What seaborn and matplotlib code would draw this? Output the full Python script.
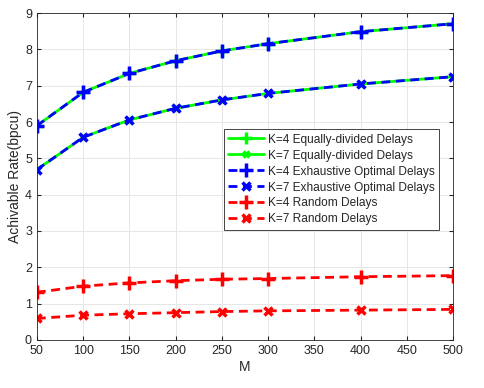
import numpy as np
import pandas as pd
import matplotlib
matplotlib.use("Agg")
import matplotlib.pyplot as plt
import seaborn as sns

# values
M = [50, 100, 150, 200, 250, 300, 400, 500]
k4_equal = [5.90, 6.82, 7.34, 7.69, 7.96, 8.16, 8.49, 8.71]
k7_equal = [4.69, 5.58, 6.06, 6.38, 6.61, 6.79, 7.05, 7.25]
k4_opt = [5.90, 6.82, 7.34, 7.69, 7.96, 8.16, 8.49, 8.71]
k7_opt = [4.69, 5.58, 6.06, 6.38, 6.61, 6.79, 7.05, 7.25]
k4_rand = [1.31, 1.48, 1.57, 1.63, 1.67, 1.69, 1.74, 1.77]
k7_rand = [0.59, 0.68, 0.72, 0.75, 0.78, 0.80, 0.82, 0.84]

sns.set_style("ticks")
plt.rcParams["font.family"] = ["Liberation Sans", "DejaVu Sans"]

fig = plt.figure(figsize=(4.85, 3.88), dpi=100)
ax = fig.add_axes([0.076, 0.124, 0.858, 0.842])

dash = (0, (3.2, 2.0))
series = [
    (k4_equal, "K=4 Equally-divided Delays", (0, 1, 0), "-", "+", 8),
    (k7_equal, "K=7 Equally-divided Delays", (0, 1, 0), "-", "x", 4.5),
    (k4_opt, "K=4 Exhaustive Optimal Delays", (0, 0, 1), dash, "+", 9.5),
    (k7_opt, "K=7 Exhaustive Optimal Delays", (0, 0, 1), dash, "x", 6),
    (k4_rand, "K=4 Random Delays", (1, 0, 0), dash, "+", 9.5),
    (k7_rand, "K=7 Random Delays", (1, 0, 0), dash, "x", 6),
]
for vals, name, col, ls, mk, ms in series:
    sns.lineplot(x=M, y=vals, ax=ax, color=col, label=name)
    ln = ax.lines[-1]
    ln.set_linestyle(ls)
    ln.set_linewidth(2.0)
    ln.set_marker(mk)
    ln.set_markersize(ms)
    ln.set_markeredgewidth(2.5)
    ln.set_markeredgecolor(col)
    ln.set_markerfacecolor(col)

ax.set_xlim(50, 500)
ax.set_ylim(0, 9)
ax.set_xticks(np.arange(50, 501, 50))
ax.set_yticks(np.arange(0, 10, 1))
ax.grid(True, color="#e6e6e6", linewidth=0.7)
ax.set_axisbelow(True)
ax.tick_params(direction="in", labelsize=9, length=3, colors="#262626",
               top=True, right=True)
for s in ax.spines.values():
    s.set_color("#262626")
    s.set_linewidth(0.6)
ax.set_xlabel("M", fontsize=10, color="#262626", labelpad=2)
ax.set_ylabel("Achivable Rate(bpcu)", fontsize=10, color="#262626", labelpad=2)

handles = ax.lines[:6]
labels = [s[1] for s in series]
leg = ax.legend(handles, labels, loc="upper right", bbox_to_anchor=(0.966, 0.644),
                fontsize=8.6, frameon=True, fancybox=False, edgecolor="#262626",
                handlelength=3.0, handletextpad=0.3, borderpad=0.35,
                labelspacing=0.33, borderaxespad=0)
leg.get_frame().set_linewidth(0.6)
leg.get_frame().set_alpha(1)

fig.savefig("out.png", dpi=100)
